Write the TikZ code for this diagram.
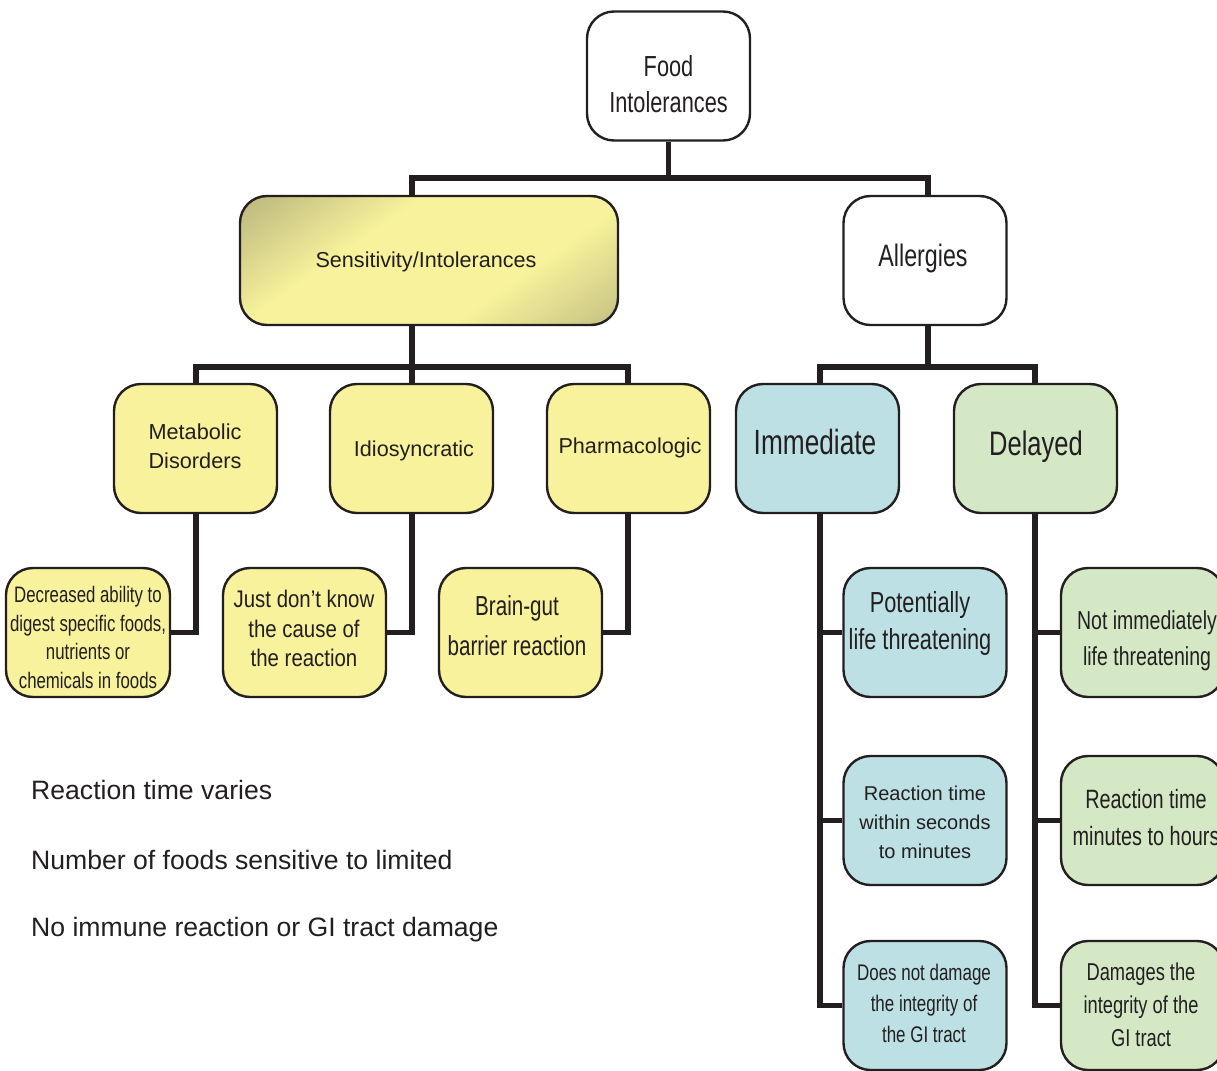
\documentclass[tikz,border=0pt]{standalone}
\usepackage{fontspec}
\setmainfont{Liberation Sans}
\newfontfamily\condA[FakeStretch=0.75]{Liberation Sans}
\newfontfamily\condB[FakeStretch=0.85]{Liberation Sans}
\newcommand\fs[2]{\fontsize{#1}{#2}\selectfont}
\usetikzlibrary{backgrounds}
\definecolor{ink}{HTML}{231F20}
\definecolor{yel}{RGB}{247,242,155}
\definecolor{blu}{RGB}{189,224,228}
\definecolor{grn}{RGB}{212,232,198}
\definecolor{olv}{RGB}{150,146,108}
\pgfdeclarehorizontalshading{sensshade}{100bp}{color(0bp)=(olv); color(22bp)=(olv!45!yel); color(38bp)=(yel); color(64bp)=(yel); color(80bp)=(olv!40!yel); color(100bp)=(olv)}
\tikzset{
  box/.style={draw=ink, line width=2.4pt, rounded corners=27pt, minimum width=163pt, minimum height=129pt, inner sep=0pt},
  ybox/.style={box, fill=yel},
  bbox/.style={box, fill=blu},
  gbox/.style={box, fill=grn},
  wbox/.style={box, fill=white},
  txt/.style={text=ink, align=center, inner sep=0pt},
  conn/.style={draw=ink, line width=5.5pt, line join=miter}
}
\begin{document}
\begin{tikzpicture}[x=1pt,y=-1pt]
\useasboundingbox (0,0) rectangle (1217,1070);
\clip (0,0) rectangle (1217,1070);
% boxes
\node[wbox] (food) at (668.5,76) {};
\node[box, minimum width=378pt, shading=sensshade, shading angle=-55] (sens) at (429,260.5) {};
\node[wbox] (all) at (925,260.5) {};
\node[ybox] (met) at (195.5,448.5) {};
\node[ybox] (idi) at (411.5,448.5) {};
\node[ybox] (pha) at (628.5,448.5) {};
\node[bbox] (imm) at (817.5,448.5) {};
\node[gbox] (del) at (1035.5,448.5) {};
\node[ybox, minimum width=164pt] (dec) at (88,632.5) {};
\node[ybox] (just) at (304.5,632.5) {};
\node[ybox] (brain) at (520.5,632.5) {};
\node[bbox] (pot) at (925,632.5) {};
\node[gbox] (notimm) at (1142.5,632.5) {};
\node[bbox] (rts) at (925,820.5) {};
\node[gbox] (rtm) at (1142.5,820.5) {};
\node[bbox] (dnd) at (925,1005.5) {};
\node[gbox] (dam) at (1142.5,1005.5) {};
% texts
\node[txt, font=\condA\fs{29}{36}] (foodT) at (668.5,84) {Food\\Intolerances};
\node[txt, font=\fs{21.6}{26}] (sensT) at (426,262) {Sensitivity/Intolerances};
\node[txt, font=\condA\fs{31}{36}] (allT) at (923,258) {Allergies};
\node[txt, font=\fs{21.7}{29}] (metT) at (195,446.5) {Metabolic\\Disorders};
\node[txt, font=\fs{21.6}{29}] (idiT) at (414,451) {Idiosyncratic};
\node[txt, font=\fs{21.6}{29}] (phaT) at (630,448) {Pharmacologic};
\node[txt, font=\condA\fs{35}{40}] (immT) at (815,442) {Immediate};
\node[txt, font=\condA\fs{34}{40}] (delT) at (1036,447) {Delayed};
\node[txt, font=\condA\fs{22.4}{28.5}] (decT) at (88,637.5) {Decreased ability to\\digest specific foods,\\nutrients or\\chemicals in foods};
\node[txt, font=\condB\fs{24}{29.5}] (justT) at (304,628.5) {Just don’t know\\the cause of\\the reaction};
\node[txt, font=\condA\fs{27.5}{40}] (brainT) at (517,626) {Brain-gut\\barrier reaction};
\node[txt, font=\condA\fs{29}{37}] (potT) at (920,623) {Potentially\\life threatening};
\node[txt, font=\condA\fs{26}{36}] (notimmT) at (1147,641) {Not immediately\\life threatening};
\node[txt, font=\fs{20}{29}] (rtsT) at (925,822.5) {Reaction time\\within seconds\\to minutes};
\node[txt, font=\condA\fs{26.5}{37}] (rtmT) at (1146,817.5) {Reaction time\\minutes to hours};
\node[txt, font=\condA\fs{22.6}{31}] (dndT) at (924,1003) {Does not damage\\the integrity of\\the GI tract};
\node[txt, font=\condA\fs{24.4}{33}] (damT) at (1141,1005) {Damages the\\integrity of the\\GI tract};
\node[txt, anchor=west, font=\fs{26.6}{30}] (n1) at (31,790) {Reaction time varies};
\node[txt, anchor=west, font=\fs{26.6}{30}] (n2) at (31,860) {Number of foods sensitive to limited};
\node[txt, anchor=west, font=\fs{26.6}{30}] (n3) at (31,930) {No immune reaction or GI tract damage};
% connectors
\coordinate (j1) at (412,178);
\coordinate (j2) at (928,178);
\coordinate (j3) at (196,367);
\coordinate (j4) at (628,367);
\coordinate (j5) at (820,367);
\coordinate (j6) at (1035,367);
\begin{scope}[on background layer]
\draw[conn] (food.south) -- (food.south |- j1);
\draw[conn] (j1 |- sens.north) -- (j1) -- (j2) -- (j2 |- all.north);
\draw[conn] (j1 |- sens.south) -- (j1 |- idi.north);
\draw[conn] (j3 |- met.north) -- (j3) -- (j4) -- (j4 |- pha.north);
\draw[conn] (j2 |- all.south) -- (j2 |- j5);
\draw[conn] (j5 |- imm.north) -- (j5) -- (j6) -- (j6 |- del.north);
\draw[conn] (j3 |- met.south) |- (dec.east);
\draw[conn] (j1 |- idi.south) |- (just.east);
\draw[conn] (j4 |- pha.south) |- (brain.east);
\draw[conn] (j5 |- imm.south) |- (dnd.west);
\draw[conn] (j5 |- pot.west) -- (pot.west);
\draw[conn] (j5 |- rts.west) -- (rts.west);
\draw[conn] (j6 |- del.south) |- (dam.west);
\draw[conn] (j6 |- notimm.west) -- (notimm.west);
\draw[conn] (j6 |- rtm.west) -- (rtm.west);
\end{scope}
\end{tikzpicture}
\end{document}
